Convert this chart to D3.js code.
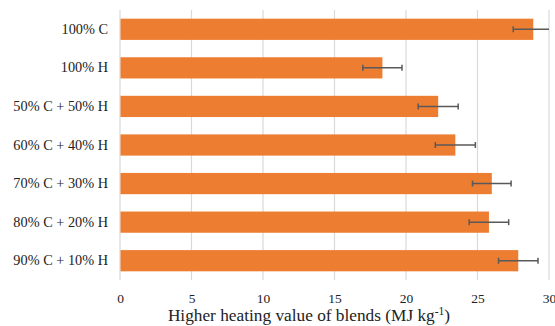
<!DOCTYPE html>
<html>
<head>
<meta charset="utf-8">
<script src="https://cdn.jsdelivr.net/npm/d3@7"></script>
<style>
  html, body { margin: 0; padding: 0; background: #fff; }
  svg { display: block; }
  svg text { font-family: "Liberation Serif", "Times New Roman", serif; }
</style>
</head>
<body>
<svg id="chart" width="555" height="326"></svg>
<script>
// Blends, top to bottom
const categories = [
  "100% C",
  "100% H",
  "50% C + 50% H",
  "60% C + 40% H",
  "70% C + 30% H",
  "80% C + 20% H",
  "90% C + 10% H"
];
// Higher heating value (MJ/kg)
const hhv = [28.9, 18.35, 22.25, 23.45, 26.0, 25.8, 27.85];
// Standard deviation
const sd = [1.4, 1.37, 1.4, 1.4, 1.35, 1.38, 1.38];
const xTicks = [0, 5, 10, 15, 20, 25, 30];
const axisTitle = "Higher heating value of blends (MJ kg";

const serif = "'Liberation Serif', 'Times New Roman', serif";
const svg = d3.select("#chart");
const margin = { left: 120, top: 10 };

const x = d3.scaleLinear().domain([0, 30]).range([margin.left, 549]);
const y = d3.scaleBand().domain(categories).range([margin.top, 280]).paddingInner(0.45).paddingOuter(0.225);

// Vertical gridlines
svg.append("g").selectAll("line").data(xTicks).join("line")
  .attr("x1", d => x(d)).attr("x2", d => x(d))
  .attr("y1", margin.top).attr("y2", 280)
  .attr("stroke", "#d9d9d9").attr("stroke-width", 1.2);

// Bars
svg.append("g").selectAll("rect").data(categories).join("rect")
  .attr("x", x(0) + 0.5)
  .attr("y", d => y(d))
  .attr("width", (d, i) => x(hhv[i]) - x(0) - 0.5)
  .attr("height", y.bandwidth())
  .attr("fill", "#ED7D31");

// Error bars (clipped at the axis maximum)
const eb = svg.append("g").attr("stroke", "#595959").attr("stroke-width", 1.5);
categories.forEach((c, i) => {
  const cy = y(c) + y.bandwidth() / 2;
  const lo = hhv[i] - sd[i], hi = hhv[i] + sd[i];
  const hiC = Math.min(hi, 30);
  eb.append("line").attr("x1", x(lo)).attr("x2", x(hiC)).attr("y1", cy).attr("y2", cy);
  eb.append("line").attr("x1", x(lo)).attr("x2", x(lo)).attr("y1", cy - 3).attr("y2", cy + 3);
  if (hi <= 30) {
    eb.append("line").attr("x1", x(hi)).attr("x2", x(hi)).attr("y1", cy - 3).attr("y2", cy + 3);
  }
});

// Category labels
const yAxis = d3.axisLeft(y).tickSize(0).tickPadding(12);
const gy = svg.append("g").attr("transform", `translate(${margin.left},0)`).call(yAxis)
  .attr("font-family", serif).attr("font-size", 14.3);
gy.select(".domain").remove();
gy.selectAll("text").attr("fill", "#222");

// X tick labels
const xAxis = d3.axisBottom(x).tickValues(xTicks).tickSize(0).tickPadding(13);
const gx = svg.append("g").attr("transform", `translate(0,280)`).call(xAxis)
  .attr("font-family", serif).attr("font-size", 13.5);
gx.select(".domain").remove();
gx.selectAll("text").attr("fill", "#222");

// Axis title with superscript
const t = svg.append("text")
  .attr("x", 309).attr("y", 321)
  .attr("text-anchor", "middle")
  .attr("font-family", serif)
  .attr("font-size", 17.3).attr("fill", "#222");
t.append("tspan").text(axisTitle);
t.append("tspan").attr("dy", -6).attr("font-size", 11.5).text("-1");
t.append("tspan").attr("dy", 6).text(")");
</script>
</body>
</html>
